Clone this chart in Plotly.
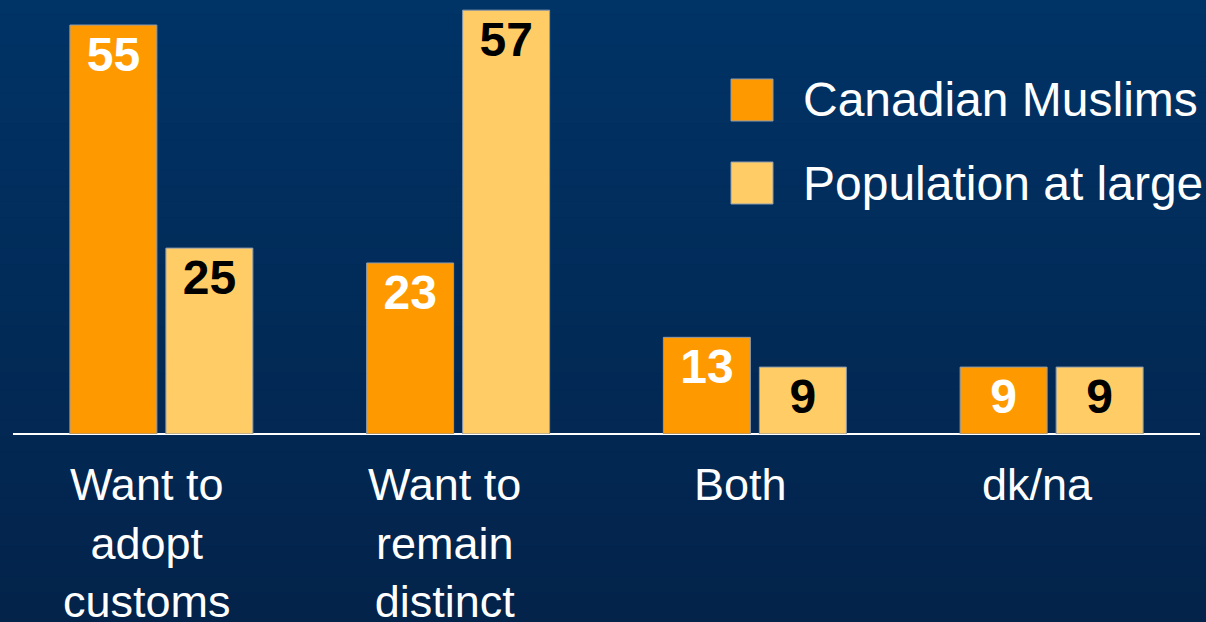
import plotly.graph_objects as go

categories = ["Want to<br>adopt<br>customs", "Want to<br>remain<br>distinct", "Both", "dk/na"]
series_names = ["Canadian Muslims", "Population at large"]
muslims = [55, 23, 13, 9]
population = [25, 57, 9, 9]

ORANGE = "#FF9900"
LIGHT = "#FFCC66"
FONT = "Liberation Sans, Arial, sans-serif"

fig = go.Figure()
fig.add_trace(go.Bar(
    x=categories, y=muslims, name=series_names[0],
    marker=dict(color=ORANGE, line=dict(color="#8a9bb0", width=1)),
    text=muslims, textposition="inside", insidetextanchor="end",
    textfont=dict(family=FONT, size=48, color="white", weight="bold"),
    constraintext="none", showlegend=False,
))
fig.add_trace(go.Bar(
    x=categories, y=population, name=series_names[1],
    marker=dict(color=LIGHT, line=dict(color="#8a9bb0", width=1)),
    text=population, textposition="inside", insidetextanchor="end",
    textfont=dict(family=FONT, size=48, color="black", weight="bold"),
    constraintext="none", showlegend=False,
))

# gradient background
shapes = []
n = 40
top = (0x00, 0x33, 0x66)
bot = (0x03, 0x23, 0x4a)
for i in range(n):
    t = i / (n - 1)
    c = tuple(round(top[k] + (bot[k] - top[k]) * t) for k in range(3))
    shapes.append(dict(type="rect", xref="paper", yref="paper", layer="below",
                       x0=-0.03, x1=1.03, y0=1.01 - (i + 1) * 1.45 / n, y1=1.01 - i * 1.45 / n,
                       line=dict(width=0), fillcolor="rgb(%d,%d,%d)" % c))

fig.update_layout(
    width=1206, height=622,
    margin=dict(l=13, r=6, t=3, b=188),
    paper_bgcolor="#012b5a", plot_bgcolor="rgba(0,0,0,0)",
    barmode="group", bargap=0.353, bargroupgap=0.094,
    font=dict(family=FONT, color="white"),
    xaxis=dict(showgrid=False, showline=False, ticks="", showticklabels=False, range=[-0.5, 3.5]),
    yaxis=dict(range=[0, 431 / 7.436], visible=True, showgrid=False, showticklabels=False,
               zeroline=True, zerolinecolor="white", zerolinewidth=2, showline=False, ticks=""),
    shapes=shapes,
)

# category labels under the axis
for cat in categories:
    fig.add_annotation(x=cat, y=0, xref="x", yref="y", yanchor="top", xanchor="center",
                       xshift=-14, yshift=-23, text=cat, showarrow=False, align="center",
                       font=dict(family=FONT, size=45, color="white"))

# legend swatches and labels (paper coordinates, styling only)
plot_h = 431
legend_colors = [ORANGE, LIGHT]
for name, col, cy in zip(series_names, legend_colors, [100, 183]):
    fig.add_shape(type="rect", xref="paper", yref="paper",
                  x0=(731 - 13) / 1187, x1=(773 - 13) / 1187,
                  y0=(434 - (cy + 21)) / plot_h, y1=(434 - (cy - 21)) / plot_h,
                  fillcolor=col, line=dict(color="#8a9bb0", width=1))
    fig.add_annotation(xref="paper", yref="paper", x=(803 - 13) / 1187, y=(434 - cy) / plot_h,
                       xanchor="left", yanchor="middle", xshift=-2, text=name, showarrow=False,
                       font=dict(family=FONT, size=48, color="white"))

fig.write_html("out.html", config={"displayModeBar": False},
               post_script="document.body.style.margin='0';document.body.style.overflow='hidden';")
